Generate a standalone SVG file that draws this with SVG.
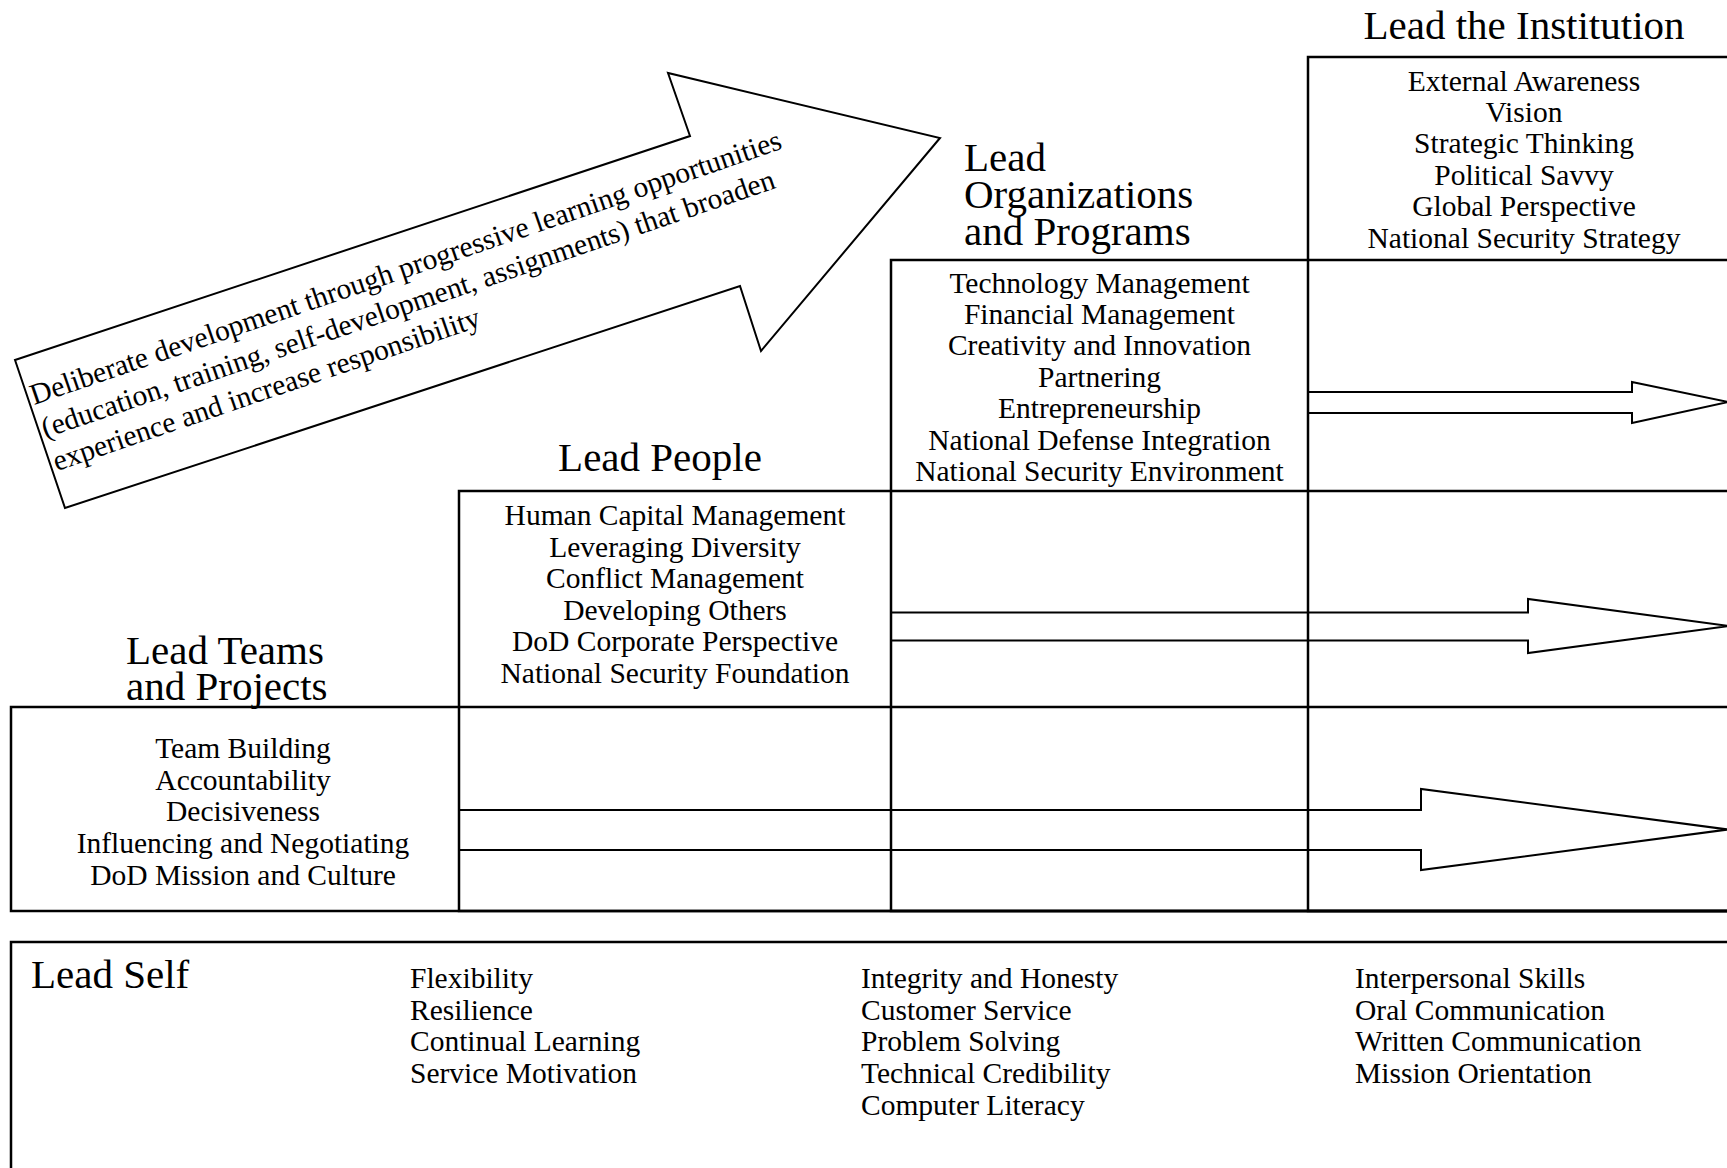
<svg xmlns="http://www.w3.org/2000/svg" width="1727" height="1168" viewBox="0 0 1727 1168">
<style>
.box{fill:none;stroke:#000;stroke-width:2.5}
.arr{fill:#fff;stroke:#000;stroke-width:2;stroke-linejoin:miter}
text{font-family:"Liberation Serif","Times New Roman",serif;fill:#000}
.h{font-size:41px}
.it{font-size:29.5px}
.c{text-anchor:middle}
</style>
<rect x="0" y="0" width="1727" height="1168" fill="#fff"/>
<g id="connectors">
<polygon class="arr" points="15,360 690,136 668,73 940,138 761,351 740,286 65,508"/>
<text class="it" transform="translate(34,405) rotate(-18.9)"><tspan x="0" y="0">Deliberate development through progressive learning opportunities</tspan><tspan x="0" y="35">(education, training, self-development, assignments) that broaden</tspan><tspan x="0" y="70">experience and increase responsibility</tspan></text>
<polygon class="arr" points="1308,392 1632,392 1632,382 1728,402 1632,423 1632,413 1308,413"/>
<polygon class="arr" points="891,612.5 1528,612.5 1528,599 1728,626 1528,653 1528,640.5 891,640.5"/>
<polygon class="arr" points="459,810 1421,810 1421,789 1728,829.5 1421,870 1421,850 459,850"/>
</g>
<g id="lead-institution">
<rect class="box" x="1308" y="57" width="432" height="854"/>
<text class="h c" x="1524" y="38.5">Lead the Institution</text>
<g class="it c">
<text class="it c" x="1524" y="90.5">External Awareness</text>
<text class="it c" x="1524" y="121.9">Vision</text>
<text class="it c" x="1524" y="153.3">Strategic Thinking</text>
<text class="it c" x="1524" y="184.7">Political Savvy</text>
<text class="it c" x="1524" y="216.1">Global Perspective</text>
<text class="it c" x="1524" y="247.5">National Security Strategy</text>
</g>
</g>
<g id="lead-organizations">
<rect class="box" x="891" y="260" width="849" height="651"/>
<text class="h" x="964"><tspan x="964" y="171">Lead</tspan><tspan x="964" y="208">Organizations</tspan><tspan x="964" y="245">and Programs</tspan></text>
<text class="it c" x="1099.5" y="292.5">Technology Management</text>
<text class="it c" x="1099.5" y="323.9">Financial Management</text>
<text class="it c" x="1099.5" y="355.3">Creativity and Innovation</text>
<text class="it c" x="1099.5" y="386.7">Partnering</text>
<text class="it c" x="1099.5" y="418.1">Entrepreneurship</text>
<text class="it c" x="1099.5" y="449.5">National Defense Integration</text>
<text class="it c" x="1099.5" y="480.9">National Security Environment</text>
</g>
<g id="lead-people">
<rect class="box" x="459" y="491" width="1281" height="420"/>
<text class="h c" x="660" y="471">Lead People</text>
<text class="it c" x="675" y="525.3">Human Capital Management</text>
<text class="it c" x="675" y="556.8">Leveraging Diversity</text>
<text class="it c" x="675" y="588.3">Conflict Management</text>
<text class="it c" x="675" y="619.8">Developing Others</text>
<text class="it c" x="675" y="651.3">DoD Corporate Perspective</text>
<text class="it c" x="675" y="682.8">National Security Foundation</text>
</g>
<g id="lead-teams">
<rect class="box" x="11" y="707" width="1729" height="204"/>
<text class="h" x="126"><tspan x="126" y="664">Lead Teams</tspan><tspan x="126" y="700">and Projects</tspan></text>
<text class="it c" x="243" y="758">Team Building</text>
<text class="it c" x="243" y="789.7">Accountability</text>
<text class="it c" x="243" y="821.4">Decisiveness</text>
<text class="it c" x="243" y="853.1">Influencing and Negotiating</text>
<text class="it c" x="243" y="884.8">DoD Mission and Culture</text>
</g>
<g id="lead-self">
<rect class="box" x="11" y="942" width="1729" height="300"/>
<text class="h" x="31" y="988">Lead Self</text>
<text class="it" x="410"><tspan x="410" y="988">Flexibility</tspan><tspan x="410" y="1019.7">Resilience</tspan><tspan x="410" y="1051.4">Continual Learning</tspan><tspan x="410" y="1083.1">Service Motivation</tspan></text>
<text class="it" x="861"><tspan x="861" y="988">Integrity and Honesty</tspan><tspan x="861" y="1019.7">Customer Service</tspan><tspan x="861" y="1051.4">Problem Solving</tspan><tspan x="861" y="1083.1">Technical Credibility</tspan><tspan x="861" y="1114.8">Computer Literacy</tspan></text>
<text class="it" x="1355"><tspan x="1355" y="988">Interpersonal Skills</tspan><tspan x="1355" y="1019.7">Oral Communication</tspan><tspan x="1355" y="1051.4">Written Communication</tspan><tspan x="1355" y="1083.1">Mission Orientation</tspan></text>
</g>
</svg>
